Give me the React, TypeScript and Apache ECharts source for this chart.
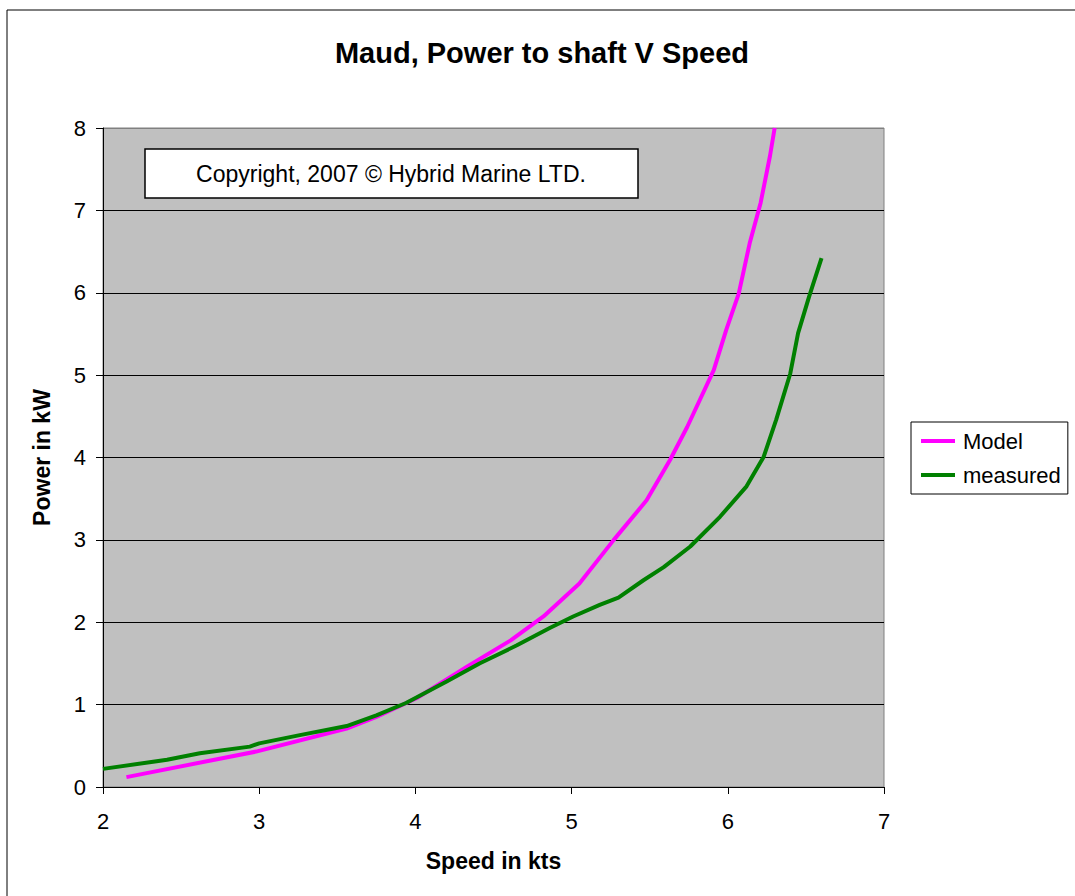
import React, { useEffect, useRef } from "react";
import * as echarts from "echarts";

const titleText = "Maud, Power to shaft V Speed";
const xAxisName = "Speed in kts";
const yAxisName = "Power in kW";
const copyrightText = "Copyright, 2007 © Hybrid Marine LTD.";
const seriesNames = ["Model", "measured"];

const modelSpeed = [2.15, 2.98, 3.56, 3.75, 4.01, 4.33, 4.61, 4.82, 5.05, 5.27, 5.48, 5.63, 5.74, 5.91, 5.99, 6.07, 6.14, 6.21, 6.27, 6.3];
const modelPower = [0.12, 0.43, 0.71, 0.85, 1.08, 1.46, 1.78, 2.07, 2.47, 3.0, 3.48, 3.97, 4.37, 5.06, 5.55, 5.99, 6.6, 7.09, 7.66, 8.0];

const measuredSpeed = [2.0, 2.41, 2.62, 2.94, 3.0, 3.26, 3.56, 3.75, 3.94, 4.2, 4.41, 4.65, 4.86, 5.01, 5.18, 5.3, 5.46, 5.59, 5.76, 5.95, 6.12, 6.23, 6.31, 6.4, 6.45, 6.52, 6.6];
const measuredPower = [0.22, 0.33, 0.41, 0.49, 0.53, 0.63, 0.74, 0.87, 1.02, 1.28, 1.5, 1.72, 1.93, 2.07, 2.21, 2.3, 2.51, 2.67, 2.92, 3.28, 3.65, 4.01, 4.46, 5.02, 5.51, 5.95, 6.42];

const FONT = "'Liberation Sans', Arial, sans-serif";

export default function App() {
  const ref = useRef<HTMLDivElement>(null);
  useEffect(() => {
    if (!ref.current) return;
    const chart = echarts.init(ref.current, null, { renderer: "svg" });
    const modelData = modelSpeed.map((x, i) => [x, modelPower[i]]);
    const measuredData = measuredSpeed.map((x, i) => [x, measuredPower[i]]);
    chart.setOption({
      animation: false,
      backgroundColor: "#ffffff",
      textStyle: { fontFamily: FONT },
      grid: {
        left: 103,
        top: 128,
        width: 781,
        height: 659,
        show: true,
        backgroundColor: "#C0C0C0",
        borderColor: "#808080",
        borderWidth: 1,
        outerBoundsMode: "none",
      },
      xAxis: {
        type: "value",
        min: 2,
        max: 7,
        interval: 1,
        name: xAxisName,
        nameLocation: "middle",
        nameGap: 62,
        nameTextStyle: { fontSize: 23, fontWeight: "bold", color: "#000", fontFamily: FONT },
        axisLine: { show: true, onZero: false, lineStyle: { color: "#000", width: 1 } },
        axisTick: { show: true, inside: false, length: 7, lineStyle: { color: "#000" } },
        axisLabel: { fontSize: 22, color: "#000", margin: 23, fontFamily: FONT },
        splitLine: { show: false },
      },
      yAxis: {
        type: "value",
        min: 0,
        max: 8,
        interval: 1,
        name: yAxisName,
        nameLocation: "middle",
        nameGap: 50,
        nameTextStyle: { fontSize: 23, fontWeight: "bold", color: "#000", fontFamily: FONT },
        axisLine: { show: true, lineStyle: { color: "#000", width: 1 } },
        axisTick: { show: true, inside: false, length: 7, lineStyle: { color: "#000" } },
        axisLabel: { fontSize: 22, color: "#000", margin: 17, fontFamily: FONT },
        splitLine: {
          show: true,
          lineStyle: {
            color: ["#000", "#000", "#000", "#000", "#000", "#000", "#000", "#000", "#808080"],
            width: 1,
          },
        },
      },
      legend: {
        show: true,
        orient: "vertical",
        left: 911,
        top: 422,
        padding: [8, 7, 8, 10],
        itemGap: 12,
        itemWidth: 34,
        itemHeight: 4,
        icon: "rect",
        borderColor: "#000",
        borderWidth: 1,
        backgroundColor: "#fff",
        textStyle: { fontSize: 22, color: "#000", fontFamily: FONT, padding: [0, 0, 0, 3] },
        data: seriesNames,
      },
      graphic: [
        {
          type: "rect",
          silent: true,
          shape: { x: 7, y: 10, width: 1100, height: 900 },
          style: { fill: "none", stroke: "#000", lineWidth: 1 },
          z: 100,
        },
        {
          type: "text",
          x: 542,
          y: 53,
          style: {
            text: titleText,
            font: `bold 29px ${FONT}`,
            fill: "#000",
            textAlign: "center",
            textVerticalAlign: "middle",
          },
        },
        {
          type: "rect",
          shape: { x: 145, y: 149, width: 493, height: 49 },
          style: { fill: "#fff", stroke: "#000", lineWidth: 1.5 },
          z: 10,
        },
        {
          type: "text",
          x: 391,
          y: 174,
          style: {
            text: copyrightText,
            font: `23px ${FONT}`,
            fill: "#000",
            textAlign: "center",
            textVerticalAlign: "middle",
          },
          z: 11,
        },
      ],
      series: [
        {
          name: seriesNames[0],
          type: "line",
          data: modelData,
          showSymbol: false,
          symbol: "none",
          clip: true,
          color: "#FF00FF",
          lineStyle: { color: "#FF00FF", width: 4 },
          z: 3,
        },
        {
          name: seriesNames[1],
          type: "line",
          data: measuredData,
          showSymbol: false,
          symbol: "none",
          clip: true,
          color: "#008000",
          lineStyle: { color: "#008000", width: 4 },
          z: 4,
        },
      ],
    });
    return () => chart.dispose();
  }, []);
  return (
    <div
      ref={ref}
      style={{ position: "absolute", left: 0, top: 0, width: 1075, height: 896 }}
    />
  );
}
